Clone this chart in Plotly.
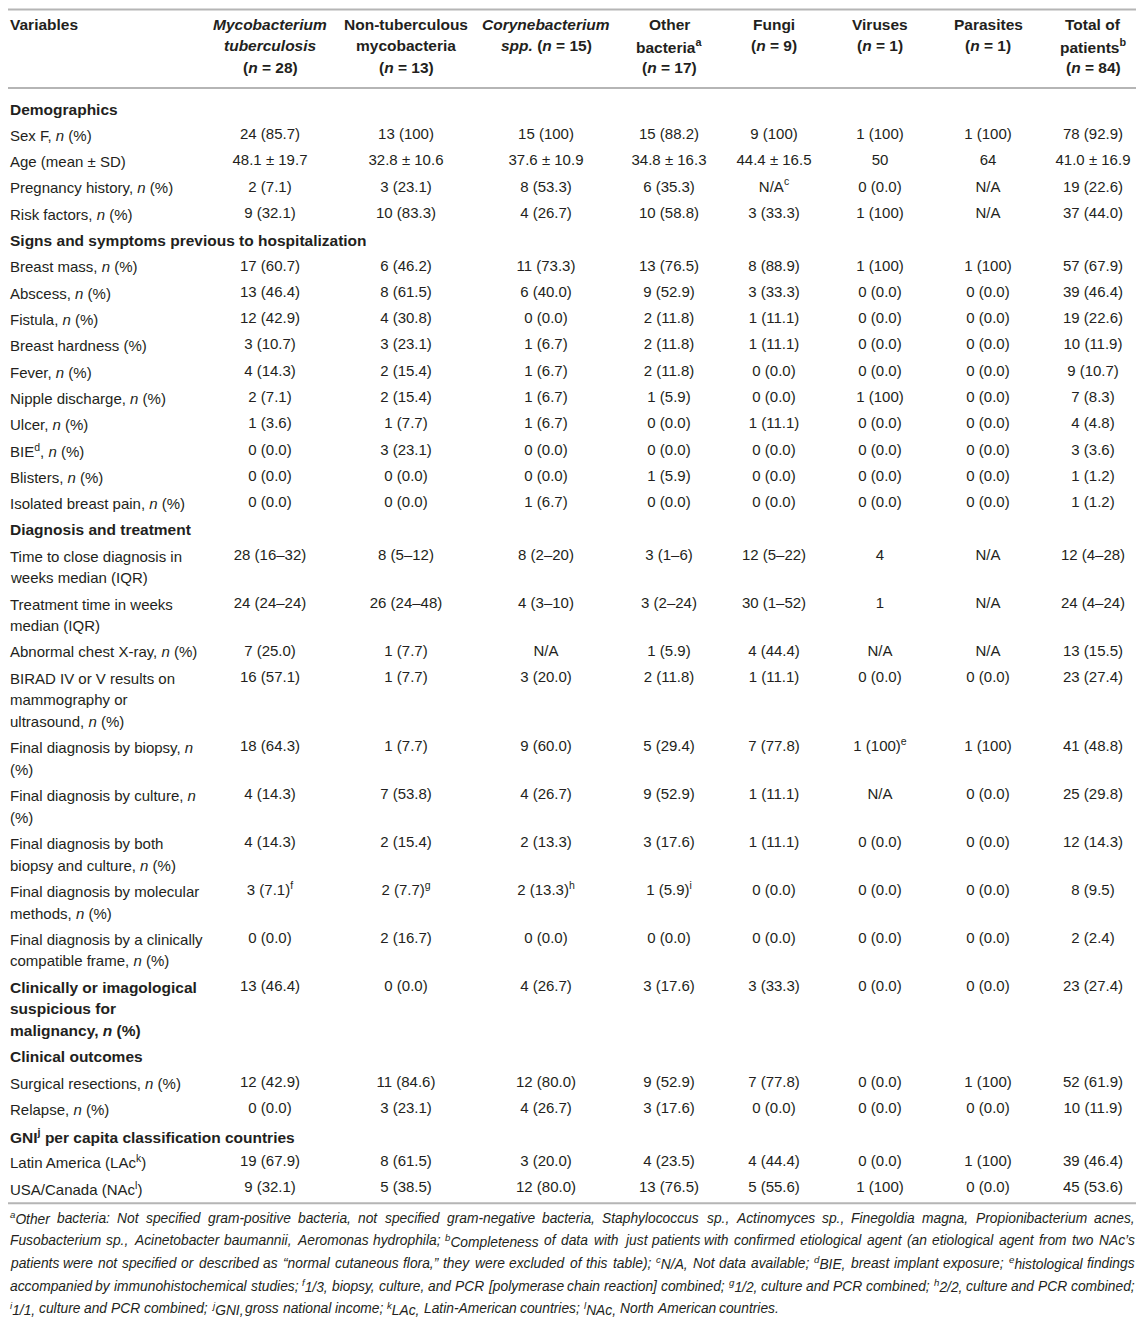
import re
import plotly.graph_objects as go

W, H = 1144, 1318
PAGE_PAD = 8  # default body margin of the html page
FONT = "Liberation Sans, Arial, Helvetica, sans-serif"
INK = "#231f20"
RULE = "#b5b5b5"

# ---- table content ----
col_headers = [
    "<i>Mycobacterium</i><br><i>tuberculosis</i><br>(<i>n</i> = 28)",
    "Non-tuberculous<br>mycobacteria<br>(<i>n</i> = 13)",
    "<i>Corynebacterium</i><br><i>spp.</i> (<i>n</i> = 15)",
    "Other<br>bacteria<sup>a</sup><br>(<i>n</i> = 17)",
    "Fungi<br>(<i>n</i> = 9)",
    "Viruses<br>(<i>n</i> = 1)",
    "Parasites<br>(<i>n</i> = 1)",
    "Total of<br>patients<sup>b</sup><br>(<i>n</i> = 84)",
]

row_labels = [
    "<b>Demographics</b>",
    "Sex F, <i>n</i> (%)",
    "Age (mean ± SD)",
    "Pregnancy history, <i>n</i> (%)",
    "Risk factors, <i>n</i> (%)",
    "<b>Signs and symptoms previous to hospitalization</b>",
    "Breast mass, <i>n</i> (%)",
    "Abscess, <i>n</i> (%)",
    "Fistula, <i>n</i> (%)",
    "Breast hardness (%)",
    "Fever, <i>n</i> (%)",
    "Nipple discharge, <i>n</i> (%)",
    "Ulcer, <i>n</i> (%)",
    "BIE<sup>d</sup>, <i>n</i> (%)",
    "Blisters, <i>n</i> (%)",
    "Isolated breast pain, <i>n</i> (%)",
    "<b>Diagnosis and treatment</b>",
    "Time to close diagnosis in<br>weeks median (IQR)",
    "Treatment time in weeks<br>median (IQR)",
    "Abnormal chest X-ray, <i>n</i> (%)",
    "BIRAD IV or V results on<br>mammography or<br>ultrasound, <i>n</i> (%)",
    "Final diagnosis by biopsy, <i>n</i><br>(%)",
    "Final diagnosis by culture, <i>n</i><br>(%)",
    "Final diagnosis by both<br>biopsy and culture, <i>n</i> (%)",
    "Final diagnosis by molecular<br>methods, <i>n</i> (%)",
    "Final diagnosis by a clinically<br>compatible frame, <i>n</i> (%)",
    "<b>Clinically or imagological</b><br><b>suspicious for</b><br><b>malignancy, <i>n</i> (%)</b>",
    "<b>Clinical outcomes</b>",
    "Surgical resections, <i>n</i> (%)",
    "Relapse, <i>n</i> (%)",
    "<b>GNI<sup>j</sup> per capita classification countries</b>",
    "Latin America (LAc<sup>k</sup>)",
    "USA/Canada (NAc<sup>l</sup>)",
]

mtb = [None, "24 (85.7)", "48.1 ± 19.7", "2 (7.1)", "9 (32.1)",
       None, "17 (60.7)", "13 (46.4)", "12 (42.9)", "3 (10.7)", "4 (14.3)", "2 (7.1)",
       "1 (3.6)", "0 (0.0)", "0 (0.0)", "0 (0.0)",
       None, "28 (16–32)", "24 (24–24)", "7 (25.0)", "16 (57.1)", "18 (64.3)", "4 (14.3)",
       "4 (14.3)", "3 (7.1)<sup>f</sup>", "0 (0.0)", "13 (46.4)",
       None, "12 (42.9)", "0 (0.0)", None, "19 (67.9)", "9 (32.1)"]
ntm = [None, "13 (100)", "32.8 ± 10.6", "3 (23.1)", "10 (83.3)",
       None, "6 (46.2)", "8 (61.5)", "4 (30.8)", "3 (23.1)", "2 (15.4)", "2 (15.4)",
       "1 (7.7)", "3 (23.1)", "0 (0.0)", "0 (0.0)",
       None, "8 (5–12)", "26 (24–48)", "1 (7.7)", "1 (7.7)", "1 (7.7)", "7 (53.8)",
       "2 (15.4)", "2 (7.7)<sup>g</sup>", "2 (16.7)", "0 (0.0)",
       None, "11 (84.6)", "3 (23.1)", None, "8 (61.5)", "5 (38.5)"]
coryne = [None, "15 (100)", "37.6 ± 10.9", "8 (53.3)", "4 (26.7)",
          None, "11 (73.3)", "6 (40.0)", "0 (0.0)", "1 (6.7)", "1 (6.7)", "1 (6.7)",
          "1 (6.7)", "0 (0.0)", "0 (0.0)", "1 (6.7)",
          None, "8 (2–20)", "4 (3–10)", "N/A", "3 (20.0)", "9 (60.0)", "4 (26.7)",
          "2 (13.3)", "2 (13.3)<sup>h</sup>", "0 (0.0)", "4 (26.7)",
          None, "12 (80.0)", "4 (26.7)", None, "3 (20.0)", "12 (80.0)"]
other = [None, "15 (88.2)", "34.8 ± 16.3", "6 (35.3)", "10 (58.8)",
         None, "13 (76.5)", "9 (52.9)", "2 (11.8)", "2 (11.8)", "2 (11.8)", "1 (5.9)",
         "0 (0.0)", "0 (0.0)", "1 (5.9)", "0 (0.0)",
         None, "3 (1–6)", "3 (2–24)", "1 (5.9)", "2 (11.8)", "5 (29.4)", "9 (52.9)",
         "3 (17.6)", "1 (5.9)<sup>i</sup>", "0 (0.0)", "3 (17.6)",
         None, "9 (52.9)", "3 (17.6)", None, "4 (23.5)", "13 (76.5)"]
fungi = [None, "9 (100)", "44.4 ± 16.5", "N/A<sup>c</sup>", "3 (33.3)",
         None, "8 (88.9)", "3 (33.3)", "1 (11.1)", "1 (11.1)", "0 (0.0)", "0 (0.0)",
         "1 (11.1)", "0 (0.0)", "0 (0.0)", "0 (0.0)",
         None, "12 (5–22)", "30 (1–52)", "4 (44.4)", "1 (11.1)", "7 (77.8)", "1 (11.1)",
         "1 (11.1)", "0 (0.0)", "0 (0.0)", "3 (33.3)",
         None, "7 (77.8)", "0 (0.0)", None, "4 (44.4)", "5 (55.6)"]
viruses = [None, "1 (100)", "50", "0 (0.0)", "1 (100)",
           None, "1 (100)", "0 (0.0)", "0 (0.0)", "0 (0.0)", "0 (0.0)", "1 (100)",
           "0 (0.0)", "0 (0.0)", "0 (0.0)", "0 (0.0)",
           None, "4", "1", "N/A", "0 (0.0)", "1 (100)<sup>e</sup>", "N/A",
           "0 (0.0)", "0 (0.0)", "0 (0.0)", "0 (0.0)",
           None, "0 (0.0)", "0 (0.0)", None, "0 (0.0)", "1 (100)"]
parasites = [None, "1 (100)", "64", "N/A", "N/A",
             None, "1 (100)", "0 (0.0)", "0 (0.0)", "0 (0.0)", "0 (0.0)", "0 (0.0)",
             "0 (0.0)", "0 (0.0)", "0 (0.0)", "0 (0.0)",
             None, "N/A", "N/A", "N/A", "0 (0.0)", "1 (100)", "0 (0.0)",
             "0 (0.0)", "0 (0.0)", "0 (0.0)", "0 (0.0)",
             None, "1 (100)", "0 (0.0)", None, "1 (100)", "0 (0.0)"]
total = [None, "78 (92.9)", "41.0 ± 16.9", "19 (22.6)", "37 (44.0)",
         None, "57 (67.9)", "39 (46.4)", "19 (22.6)", "10 (11.9)", "9 (10.7)", "7 (8.3)",
         "4 (4.8)", "3 (3.6)", "1 (1.2)", "1 (1.2)",
         None, "12 (4–28)", "24 (4–24)", "13 (15.5)", "23 (27.4)", "41 (48.8)", "25 (29.8)",
         "12 (14.3)", "8 (9.5)", "2 (2.4)", "23 (27.4)",
         None, "52 (61.9)", "10 (11.9)", None, "39 (46.4)", "45 (53.6)"]

columns = [mtb, ntm, coryne, other, fungi, viruses, parasites, total]

footnotes = [
    "<sup>a</sup>Other bacteria: Not specified gram-positive bacteria, not specified gram-negative bacteria, "
    "Staphylococcus sp., Actinomyces sp., Finegoldia magna, Propionibacterium acnes,",
    "Fusobacterium sp., Acinetobacter baumannii, Aeromonas hydrophila; <sup>b</sup>Completeness of data with just "
    "patients with confirmed etiological agent (an etiological agent from two NAc’s",
    "patients were not specified or described as “normal cutaneous flora,” they were excluded of this table); "
    "<sup>c</sup>N/A, Not data available; <sup>d</sup>BIE, breast implant exposure; <sup>e</sup>histological findings",
    "accompanied by immunohistochemical studies; <sup>f</sup>1/3, biopsy, culture, and PCR [polymerase chain reaction] "
    "combined; <sup>g</sup>1/2, culture and PCR combined; <sup>h</sup>2/2, culture and PCR combined;",
    "<sup>i</sup>1/1, culture and PCR combined; <sup>j</sup>GNI, gross national income; "
    "<sup>k</sup>LAc, Latin-American countries; <sup>l</sup>NAc, North American countries.",
]

# ---- layout geometry (page pixels) ----
col_x = [270, 406, 546, 669, 774, 880, 988, 1093]
label_x = 8.5
FS, FS_B, FS_FOOT = 15, 15.5, 13.8
ROW_H = 26.3
LINE_H = 21.6
HEAD_Y0, HEAD_GAP = 24, 21.5
BODY_Y0 = 109
FOOT_Y0, FOOT_GAP = 1218, 22.7
FOOT_L, FOOT_R = 8.5, 1134

row_y = []
y = BODY_Y0
for lab in row_labels:
    row_y.append(y)
    y += ROW_H + LINE_H * lab.count("<br>")

# Arial / Liberation Sans advance widths (1/1000 em), used to justify footnotes
CW = {" ": 278, ",": 278, ".": 278, ";": 278, ":": 278, "(": 333, ")": 333, "[": 278, "]": 278,
      "/": 278, "-": 333, "’": 222, "“": 333, "”": 333, "'": 191,
      "A": 667, "B": 667, "C": 722, "D": 722, "E": 667, "F": 611, "G": 778, "H": 722, "I": 278,
      "J": 500, "K": 667, "L": 556, "M": 833, "N": 722, "O": 778, "P": 667, "Q": 778, "R": 722,
      "S": 667, "T": 611, "U": 722, "V": 667, "W": 944, "X": 667, "Y": 667, "Z": 611,
      "c": 500, "f": 278, "i": 222, "j": 222, "k": 500, "l": 222, "m": 833, "r": 333, "s": 500,
      "t": 278, "v": 500, "w": 722, "x": 500, "y": 500, "z": 500}


def text_width(s, size):
    w, scale = 0.0, 1.0
    for part in re.split(r"(<sup>|</sup>)", s):
        if part == "<sup>":
            scale = 0.7
        elif part == "</sup>":
            scale = 1.0
        else:
            w += sum(CW.get(ch, 556) for ch in part) * scale
    return w * size / 1000


fig = go.Figure()

# value cells, one text trace per column
for cx, vals in zip(col_x, columns):
    idx = [i for i, v in enumerate(vals) if v is not None]
    fig.add_trace(go.Scatter(
        x=[cx] * len(idx), y=[row_y[i] for i in idx], text=[vals[i] for i in idx],
        mode="text", textposition="middle center",
        textfont=dict(family=FONT, size=FS, color=INK),
        hoverinfo="skip", showlegend=False, cliponaxis=False,
    ))

ann = []


def add_text(x, y, txt, anchor="left", size=FS):
    ann.append(dict(x=x, y=y, xref="x", yref="y", text=txt, showarrow=False,
                    xanchor=anchor, yanchor="middle", align=anchor, borderpad=0,
                    font=dict(family=FONT, size=size, color=INK)))


# header
add_text(label_x, HEAD_Y0, "<b>Variables</b>", size=FS_B)
for cx, hd in zip(col_x, col_headers):
    for k, line in enumerate(hd.split("<br>")):
        add_text(cx, HEAD_Y0 + k * HEAD_GAP, "<b>" + line + "</b>", anchor="center", size=FS_B)

# row labels
for ry, lab in zip(row_y, row_labels):
    for k, line in enumerate(lab.split("<br>")):
        add_text(label_x, ry + k * LINE_H, line, size=FS_B if line.startswith("<b>") else FS)

# footnotes, justified word by word (last line left aligned)
for k, line in enumerate(footnotes):
    fy = FOOT_Y0 + k * FOOT_GAP
    words = line.split(" ")
    widths = [text_width(wd, FS_FOOT) for wd in words]
    gap = text_width(" ", FS_FOOT)
    if k < len(footnotes) - 1:
        gap = (FOOT_R - FOOT_L - sum(widths)) / (len(words) - 1)
    x = FOOT_L
    for wd, ww in zip(words, widths):
        add_text(x, fy, "<i>" + wd + "</i>", size=FS_FOOT)
        x += ww + gap

rules_y = [9.5, 88, row_y[-1] + 15]
shapes = [dict(type="line", xref="x", yref="y", x0=PAGE_PAD, x1=W, y0=ry, y1=ry,
               line=dict(color=RULE, width=2)) for ry in rules_y]

fig.update_layout(
    width=W - PAGE_PAD, height=H - PAGE_PAD, margin=dict(l=0, r=0, t=0, b=0),
    paper_bgcolor="white", plot_bgcolor="white",
    xaxis=dict(range=[PAGE_PAD, W], visible=False, fixedrange=True),
    yaxis=dict(range=[H, PAGE_PAD], visible=False, fixedrange=True),
    annotations=ann, shapes=shapes,
)

fig.write_html("out.html")
